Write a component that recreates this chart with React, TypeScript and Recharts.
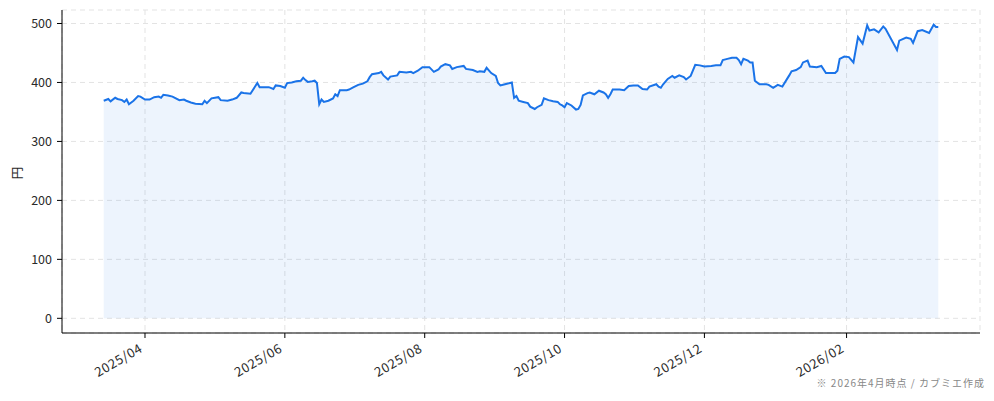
import React from 'react';
import { AreaChart, Area, XAxis, YAxis, CartesianGrid } from 'recharts';

const dates: string[] = [
  '2025-03-14','2025-03-16','2025-03-17','2025-03-19','2025-03-20','2025-03-22','2025-03-23','2025-03-24','2025-03-25','2025-03-27',
  '2025-03-29','2025-03-30','2025-04-01','2025-04-03','2025-04-05','2025-04-07','2025-04-08','2025-04-09','2025-04-11','2025-04-13',
  '2025-04-16','2025-04-18','2025-04-19','2025-04-21','2025-04-23','2025-04-26','2025-04-27','2025-04-28','2025-04-30','2025-05-03',
  '2025-05-04','2025-05-07','2025-05-09','2025-05-11','2025-05-13','2025-05-14','2025-05-17','2025-05-20','2025-05-21','2025-05-25',
  '2025-05-27','2025-05-28','2025-05-30','2025-06-01','2025-06-02','2025-06-04','2025-06-06','2025-06-08','2025-06-09','2025-06-10',
  '2025-06-11','2025-06-13','2025-06-14','2025-06-15','2025-06-16','2025-06-17','2025-06-18','2025-06-20','2025-06-22','2025-06-23',
  '2025-06-24','2025-06-25','2025-06-28','2025-06-29','2025-07-01','2025-07-03','2025-07-05','2025-07-07','2025-07-08','2025-07-09',
  '2025-07-12','2025-07-13','2025-07-14','2025-07-16','2025-07-17','2025-07-20','2025-07-21','2025-07-24','2025-07-26','2025-07-27',
  '2025-07-29','2025-07-31','2025-08-01','2025-08-03','2025-08-05','2025-08-07','2025-08-08','2025-08-10','2025-08-12','2025-08-13',
  '2025-08-15','2025-08-18','2025-08-19','2025-08-22','2025-08-24','2025-08-25','2025-08-27','2025-08-28','2025-08-30','2025-09-01',
  '2025-09-02','2025-09-03','2025-09-05','2025-09-08','2025-09-09','2025-09-10','2025-09-11','2025-09-13','2025-09-15','2025-09-16',
  '2025-09-18','2025-09-19','2025-09-21','2025-09-22','2025-09-24','2025-09-26','2025-09-28','2025-09-29','2025-09-30','2025-10-01',
  '2025-10-02','2025-10-04','2025-10-06','2025-10-07','2025-10-08','2025-10-09','2025-10-11','2025-10-12','2025-10-14','2025-10-16',
  '2025-10-18','2025-10-19','2025-10-20','2025-10-21','2025-10-22','2025-10-25','2025-10-27','2025-10-29','2025-10-31','2025-11-02',
  '2025-11-04','2025-11-06','2025-11-07','2025-11-10','2025-11-11','2025-11-12','2025-11-13','2025-11-15','2025-11-17','2025-11-18',
  '2025-11-20','2025-11-22','2025-11-23','2025-11-25','2025-11-27','2025-11-29','2025-12-01','2025-12-04','2025-12-06','2025-12-08',
  '2025-12-09','2025-12-11','2025-12-13','2025-12-15','2025-12-16','2025-12-17','2025-12-18','2025-12-20','2025-12-21','2025-12-22',
  '2025-12-23','2025-12-25','2025-12-28','2025-12-29','2025-12-31','2026-01-02','2026-01-04','2026-01-07','2026-01-08','2026-01-10',
  '2026-01-12','2026-01-13','2026-01-15','2026-01-16','2026-01-19','2026-01-21','2026-01-23','2026-01-25','2026-01-27','2026-01-28',
  '2026-01-29','2026-01-31','2026-02-02','2026-02-04','2026-02-06','2026-02-08','2026-02-10','2026-02-11','2026-02-13','2026-02-15',
  '2026-02-17','2026-02-18','2026-02-23','2026-02-24','2026-02-27','2026-03-01','2026-03-02','2026-03-04','2026-03-06','2026-03-09',
  '2026-03-11','2026-03-12','2026-03-13',
];

const prices: number[] = [
  369,372,368,374,372,370,367,371,363,369,
  377,376,371,371,375,376,374,379,378,376,
  370,371,369,366,364,363,369,365,373,375,
  370,369,371,374,383,382,381,399,392,392,
  389,395,394,391,399,400,402,403,408,404,
  401,402,403,399,363,371,367,369,373,380,
  377,387,387,388,392,396,398,402,409,414,
  416,418,412,405,410,412,418,417,418,416,
  420,426,426,426,418,422,427,431,429,423,
  426,428,423,421,418,419,418,425,416,411,
  399,395,397,400,374,377,369,367,365,359,
  355,358,362,373,370,368,367,363,361,358,
  365,361,354,355,362,378,382,383,380,386,
  383,380,374,380,388,388,387,394,395,395,
  389,388,393,397,393,391,397,406,411,408,
  412,409,405,411,430,429,427,428,429,429,
  438,440,442,442,438,431,440,437,434,434,
  403,397,397,396,391,396,393,412,419,421,
  426,434,437,427,426,428,416,416,416,420,
  440,444,443,434,477,466,497,488,490,485,
  495,491,455,471,476,474,467,487,489,484,
  498,494,494,
];

const xTickDates: string[] = ['2025-04-01','2025-06-01','2025-08-01','2025-10-01','2025-12-01','2026-02-01'];
const yTicks: number[] = [0, 100, 200, 300, 400, 500];

const toTs = (d: string) => Date.parse(d + 'T00:00:00Z');
const data = dates.map((d, i) => ({ t: toTs(d), v: prices[i] }));
const xTicks = xTickDates.map(toTs);

const tMin = data[0].t;
const tMax = data[data.length - 1].t;
const xPad = (tMax - tMin) * 0.05;
const vMax = Math.max(...prices);
const yPad = vMax * 0.05;

const FONT = '"Noto Sans CJK JP", "Noto Sans", sans-serif';

const fmt = (ts: number) => {
  const d = new Date(ts);
  const m = d.getUTCMonth() + 1;
  return `${d.getUTCFullYear()}/${m < 10 ? '0' + m : m}`;
};

const XTick = (props: any) => {
  const { x, y, payload } = props;
  const ax = x - 1.5;
  const ay = y + 11;
  return (
    <text x={ax} y={ay} transform={`rotate(-30, ${ax}, ${ay})`} textAnchor="end" fontSize={13} letterSpacing={0.6} fill="#2a2a2a" fontFamily={FONT}>
      {fmt(payload.value)}
    </text>
  );
};

export default function App() {
  return (
    <div style={{ position: 'absolute', left: 0, top: 0, width: 994, height: 401, background: '#fff' }}>
      <AreaChart width={994} height={401} data={data} margin={{ top: 10, right: 14, left: 0, bottom: 0 }}>
        <CartesianGrid stroke="#e3e3e3" strokeDasharray="5 4" />
        <XAxis
          dataKey="t"
          type="number"
          scale="time"
          domain={[tMin - xPad, tMax + xPad]}
          allowDataOverflow
          ticks={xTicks}
          tick={<XTick />}
          height={68}
          tickSize={5}
          tickMargin={2}
          stroke="#000"
          tickLine={{ stroke: '#000' }}
          axisLine={{ stroke: '#000' }}
        />
        <YAxis
          type="number"
          domain={[-yPad, vMax + yPad]}
          allowDataOverflow
          ticks={yTicks}
          width={62}
          tickSize={5}
          tickMargin={5}
          tick={{ fontSize: 12.5, fill: '#2a2a2a', fontFamily: FONT }}
          tickLine={{ stroke: '#000' }}
          axisLine={{ stroke: '#000' }}
        />
        <Area
          type="linear"
          dataKey="v"
          baseValue={0}
          stroke="#1a73e8"
          strokeWidth={2}
          fill="#1a73e8"
          fillOpacity={0.08}
          isAnimationActive={false}
          dot={false}
          activeDot={false}
        />
      </AreaChart>
      <div style={{ position: 'absolute', left: 10, top: 165, width: 14, height: 16, transform: 'rotate(-90deg)', fontSize: 12.5, color: '#2a2a2a', fontFamily: FONT, lineHeight: '16px', textAlign: 'center' }}>円</div>
      <div style={{ position: 'absolute', right: 9, top: 376, fontSize: 10, color: '#888', fontFamily: FONT, letterSpacing: 1, whiteSpace: 'nowrap', lineHeight: '14px' }}>※ 2026年4月時点 / カブミエ作成</div>
    </div>
  );
}
